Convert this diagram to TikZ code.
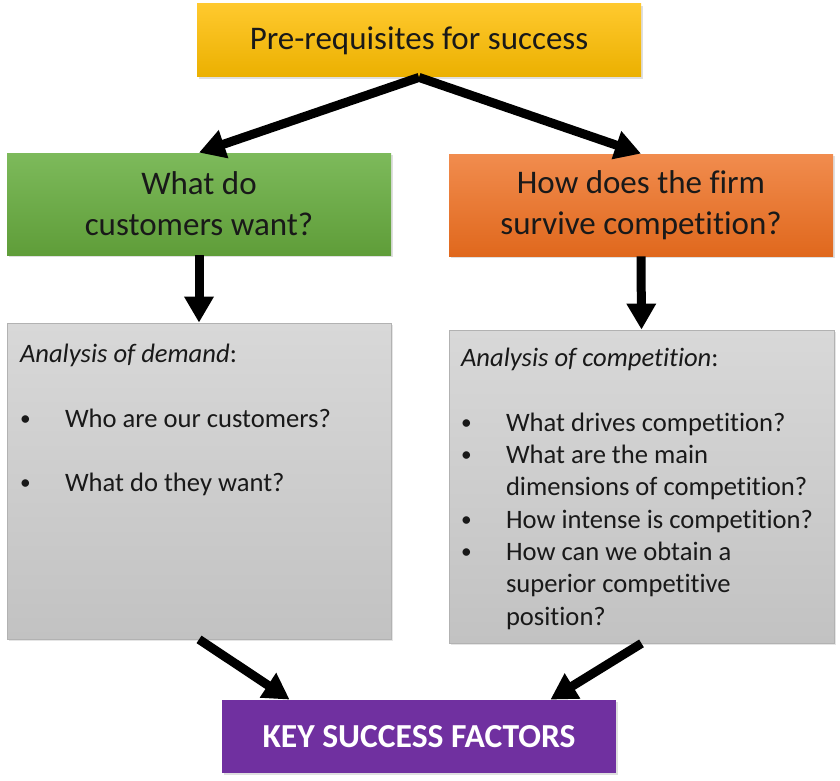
\documentclass[tikz,border=0pt]{standalone}
\usepackage{fontspec}
\setmainfont{Carlito}[Ligatures=NoCommon, RawFeature=-calt]
\usetikzlibrary{arrows.meta,calc,shadows}

\definecolor{yelltop}{HTML}{FFC92E}
\definecolor{yellbot}{HTML}{EBB000}
\definecolor{greentop}{HTML}{7DBA5B}
\definecolor{greenbot}{HTML}{5F9D39}
\definecolor{orgtop}{HTML}{F18C4E}
\definecolor{orgbot}{HTML}{E0681D}
\definecolor{graytop}{HTML}{D8D8D8}
\definecolor{graybot}{HTML}{C2C2C2}
\definecolor{ksfpurple}{HTML}{7030A0}

\newcommand\listbullet{\raisebox{1pt}{\scalebox{0.8}{\textbullet}}}

\begin{document}
\begin{tikzpicture}[x=0.5pt,y=-0.5pt,
    box/.style={inner sep=0pt, align=center, text=black!90,
      font=\fontsize{16.5}{20.5}\selectfont,
      drop shadow={opacity=0.25, shadow xshift=1pt, shadow yshift=-1pt}},
    graybox/.style={draw=black!30, top color=graytop, bottom color=graybot,
      inner sep=0pt, minimum width=192pt,
      drop shadow={opacity=0.2, shadow xshift=1pt, shadow yshift=-1pt}},
    listtxt/.style={anchor=north west, inner sep=0pt, align=left, text=black!90,
      font=\fontsize{13.3}{16.15}\selectfont},
    arr/.style={line width=4.5pt, -{Triangle[length=13pt, width=14pt]}},
  ]
  \useasboundingbox[fill=white] (0,0) rectangle (840,781);

  \node[box, top color=yelltop, bottom color=yellbot, minimum width=222pt, minimum height=36.5pt] (pre) at (419,40.5) {Pre-requisites for success};
  \node[box, top color=greentop, bottom color=greenbot, minimum width=192pt, minimum height=51pt] (want) at (199,204) {What do\\customers want?};
  \node[box, top color=orgtop, bottom color=orgbot, minimum width=192pt, minimum height=51pt] (surv) at (641,205) {How does the firm\\survive competition?};

  \node[graybox, minimum height=158pt] (demand) at (199,481) {};
  \node[graybox, minimum width=192.5pt, minimum height=156.5pt] (comp) at (641.5,486.5) {};

  \node[box, fill=ksfpurple, text=white, minimum width=197pt, minimum height=36.5pt, font=\fontsize{16.8}{20}\selectfont\bfseries] (ksf) at (419,736.5) {KEY SUCCESS FACTORS};

  % list texts
  \node[listtxt] (demtxt) at ($(demand.north west)+(13,17)$) {%
    \begin{tabular}{@{}p{22.5pt}@{}l@{}}
      \multicolumn{2}{@{}l@{}}{\textit{Analysis of demand}:}\\
      \\
      \listbullet & Who are our customers?\\
      \\
      \listbullet & What do they want?
    \end{tabular}};
  \node[listtxt] (comptxt) at ($(comp.north west)+(12,14)$) {%
    \begin{tabular}{@{}p{22.5pt}@{}l@{}}
      \multicolumn{2}{@{}l@{}}{\textit{Analysis of competition}:}\\
      \\
      \listbullet & What drives competition?\\
      \listbullet & What are the main\\
                  & dimensions of competition?\\
      \listbullet & How intense is competition?\\
      \listbullet & How can we obtain a\\
                  & superior competitive\\
                  & position?
    \end{tabular}};

  \coordinate (ksfl) at ($(ksf.north west)+(68,0)$);
  \coordinate (ksfr) at ($(ksf.north east)+(-66,0)$);

  \draw[arr] (pre.south) -- (want.north);
  \draw[arr] (pre.south) -- (surv.north);
  \draw[arr] (want.south) -- (demand.north);
  \draw[arr] (surv.south) -- (comp.north);
  \draw[arr] (demand.south) -- (ksfl);
  \draw[arr] (comp.south) -- (ksfr);
\end{tikzpicture}
\end{document}
